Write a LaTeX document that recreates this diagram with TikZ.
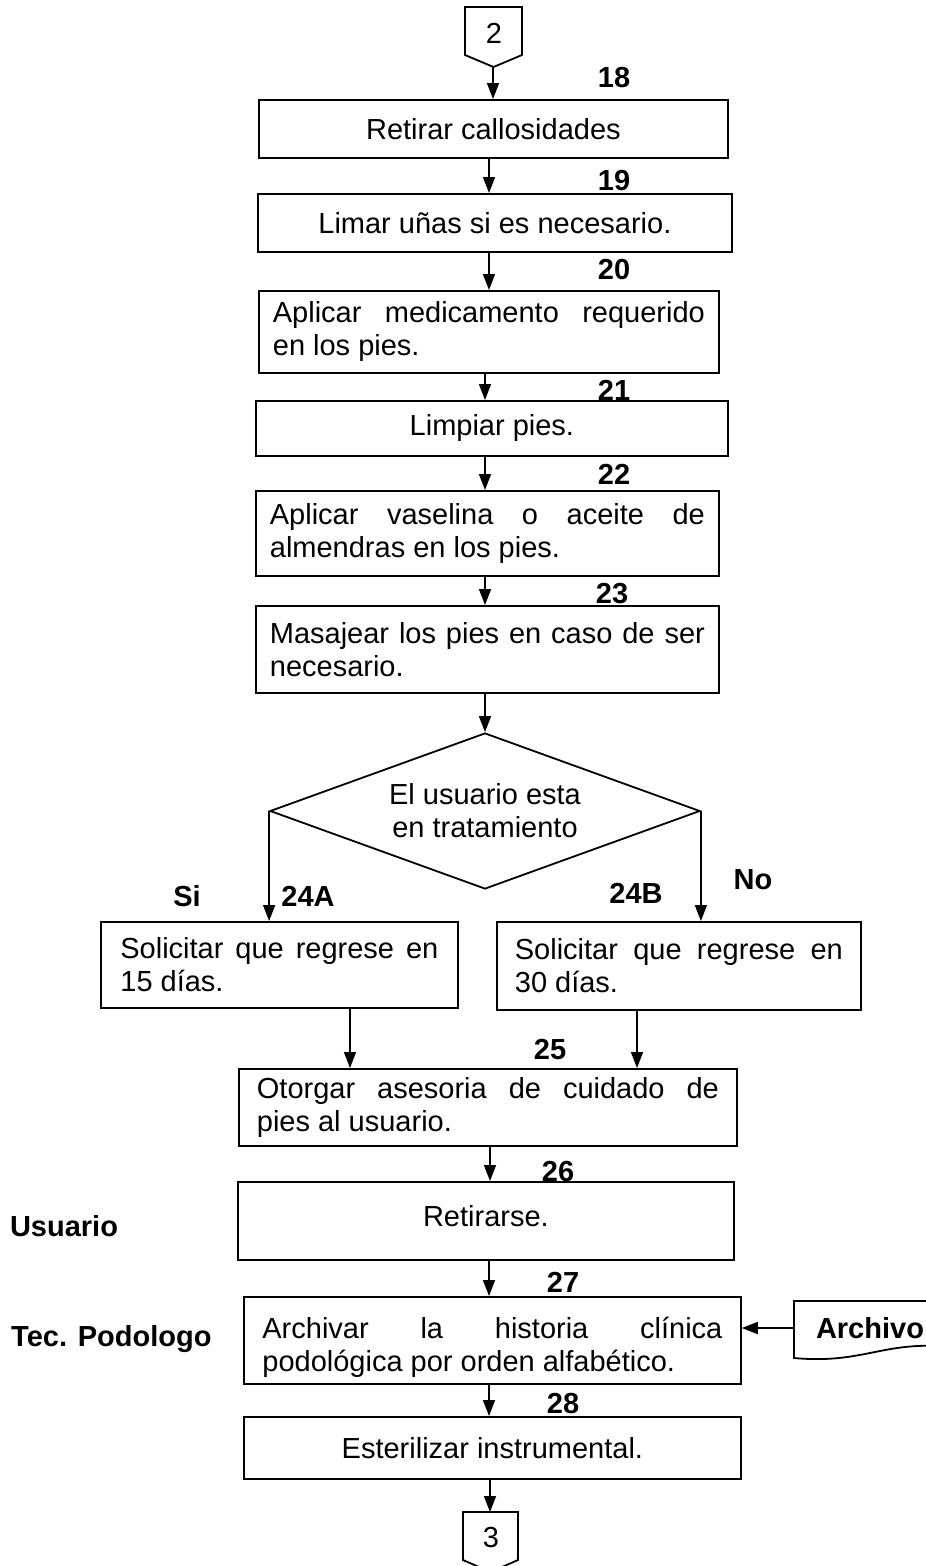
\documentclass[tikz,border=0pt]{standalone}
\usepackage{fontspec}
\setmainfont{Liberation Sans}
\usetikzlibrary{shapes.geometric,arrows.meta}
\hyphenpenalty=10000
\exhyphenpenalty=10000
\begin{document}
\begin{tikzpicture}[x=1pt,y=-1pt,
  txt/.style={font=\fontsize{29}{33}\selectfont},
  lbl/.style={font=\fontsize{29}{33}\selectfont\bfseries, inner sep=0pt},
  box/.style={draw, line width=1.8pt, fill=white, anchor=north west, inner sep=0pt, txt},
  jbox/.style={box, align=justify},
  arr/.style={line width=1.6pt, -{Triangle[length=16pt,width=12pt]}},
  ln/.style={line width=1.8pt}]
\useasboundingbox (0,0) rectangle (926,1566);
\clip (0,0) rectangle (926,1566);

% column coordinates
\coordinate (x489) at (489,0);
\coordinate (x485) at (485,0);
\coordinate (x490) at (490,0);
\coordinate (x350) at (350,0);
\coordinate (x637) at (637,0);

% number labels (drawn first, boxes cover overlaps)
\node[lbl] (n18) at (614,78) {18};
\node[lbl] (n19) at (614,181) {19};
\node[lbl] (n20) at (614,270) {20};
\node[lbl] (n21) at (614,390) {21};
\node[lbl] (n22) at (614,474) {22};
\node[lbl] (n23) at (612,594) {23};
\node[lbl] (n24a) at (308,896) {24A};
\node[lbl] (n24b) at (636,893) {24B};
\node[lbl] (si) at (187,896) {Si};
\node[lbl] (no) at (753,880) {No};
\node[lbl] (n25) at (550,1050) {25};
\node[lbl] (n26) at (558,1172) {26};
\node[lbl] (n27) at (563,1282) {27};
\node[lbl] (n28) at (563,1403) {28};
\node[lbl] (usuario) at (64,1226) {Usuario};
\node[lbl, anchor=west] (tec) at (11,1339) {Tec. Podologo};

% connector 2
\draw[ln] (465,7) -- (522,7) -- (522,55) -- (493.5,67) -- (465,55) -- cycle;
\node[txt, inner sep=0pt] (c2) at (494,33) {2};
\coordinate (c2tip) at (493,67);

% boxes
\node[box, minimum width=469pt, minimum height=58pt] (b18) at (258,99) {Retirar callosidades};
\node[box, minimum width=474pt, minimum height=58pt] (b19) at (257,193) {Limar uñas si es necesario.};
\node[jbox, text width=432pt, inner xsep=14pt, minimum height=82pt] (b20) at (258,290)
  {Aplicar medicamento requerido\linebreak en los pies.};
\node[box, minimum width=472pt, minimum height=55pt] (b21) at (255,400) {Limpiar pies.};
\node[jbox, text width=435pt, inner xsep=14pt, minimum height=85pt] (b22) at (255,490)
  {Aplicar vaselina o aceite de\linebreak almendras en los pies.};
\node[jbox, text width=435pt, inner xsep=14pt, minimum height=87pt] (b23) at (255,605)
  {Masajear los pies en caso de ser\linebreak necesario.};

\node[draw, diamond, aspect=2.756, minimum width=430pt, minimum height=156pt, inner sep=0pt,
  txt, align=center, line width=1.8pt] (dia) at (485,811) {El usuario esta\\en tratamiento};

\node[jbox, text width=318pt, inner xsep=19.5pt, minimum height=86pt] (b24a) at (100,921)
  {Solicitar que regrese en\linebreak 15 días.};
\node[jbox, text width=328pt, inner xsep=18pt, minimum height=88pt] (b24b) at (496,921)
  {Solicitar que regrese en\linebreak 30 días.};
\node[jbox, text width=462pt, inner xsep=18pt, minimum height=77pt] (b25) at (238,1068)
  {Otorgar asesoria de cuidado de\linebreak pies al usuario.};
\node[box, align=center, minimum width=496pt, minimum height=78pt] (b26) at (237,1181)
  {Retirarse.\\[-23pt]\mbox{}};
\node[jbox, text width=460pt, inner xsep=18.5pt, minimum height=87pt] (b27) at (243,1296)
  {\rule{0pt}{36pt}Archivar la historia clínica\linebreak podológica por orden alfabético.};
\node[box, minimum width=497pt, minimum height=62pt] (b28) at (243,1416) {Esterilizar instrumental.};

% Archivo document
\draw[ln, fill=white] (794,1301) -- (940,1301) -- (940,1346)
  .. controls (880,1343) and (860,1364) .. (794,1358) -- cycle;
\node[lbl] (arch) at (870,1328) {Archivo};
\coordinate (archL) at (794,1328);

% connector 3
\draw[ln] (463,1512) -- (518,1512) -- (518,1560) -- (490.5,1572) -- (463,1560) -- cycle;
\node[txt, inner sep=0pt] (c3) at (491,1537) {3};
\coordinate (c3top) at (490,1512);

% arrows
\draw[arr] (c2tip) -- (c2tip |- b18.north);
\draw[arr] (b18.south -| x489) -- (b19.north -| x489);
\draw[arr] (b19.south -| x489) -- (b20.north -| x489);
\draw[arr] (b20.south -| x485) -- (b21.north -| x485);
\draw[arr] (b21.south -| x485) -- (b22.north -| x485);
\draw[arr] (b22.south -| x485) -- (b23.north -| x485);
\draw[arr] (b23.south -| x485) -- (dia.north);
\draw[arr] (dia.west) -- (dia.west |- b24a.north);
\draw[arr] (dia.east) -- (dia.east |- b24b.north);
\draw[arr] (b24a.south -| x350) -- (b25.north -| x350);
\draw[arr] (b24b.south -| x637) -- (b25.north -| x637);
\draw[arr] (b25.south -| x490) -- (b26.north -| x490);
\draw[arr] (b26.south -| x489) -- (b27.north -| x489);
\draw[arr] (archL) -- (b27.east |- archL);
\draw[arr] (b27.south -| x489) -- (b28.north -| x489);
\draw[arr] (b28.south -| x490) -- (c3top);
\end{tikzpicture}
\end{document}
